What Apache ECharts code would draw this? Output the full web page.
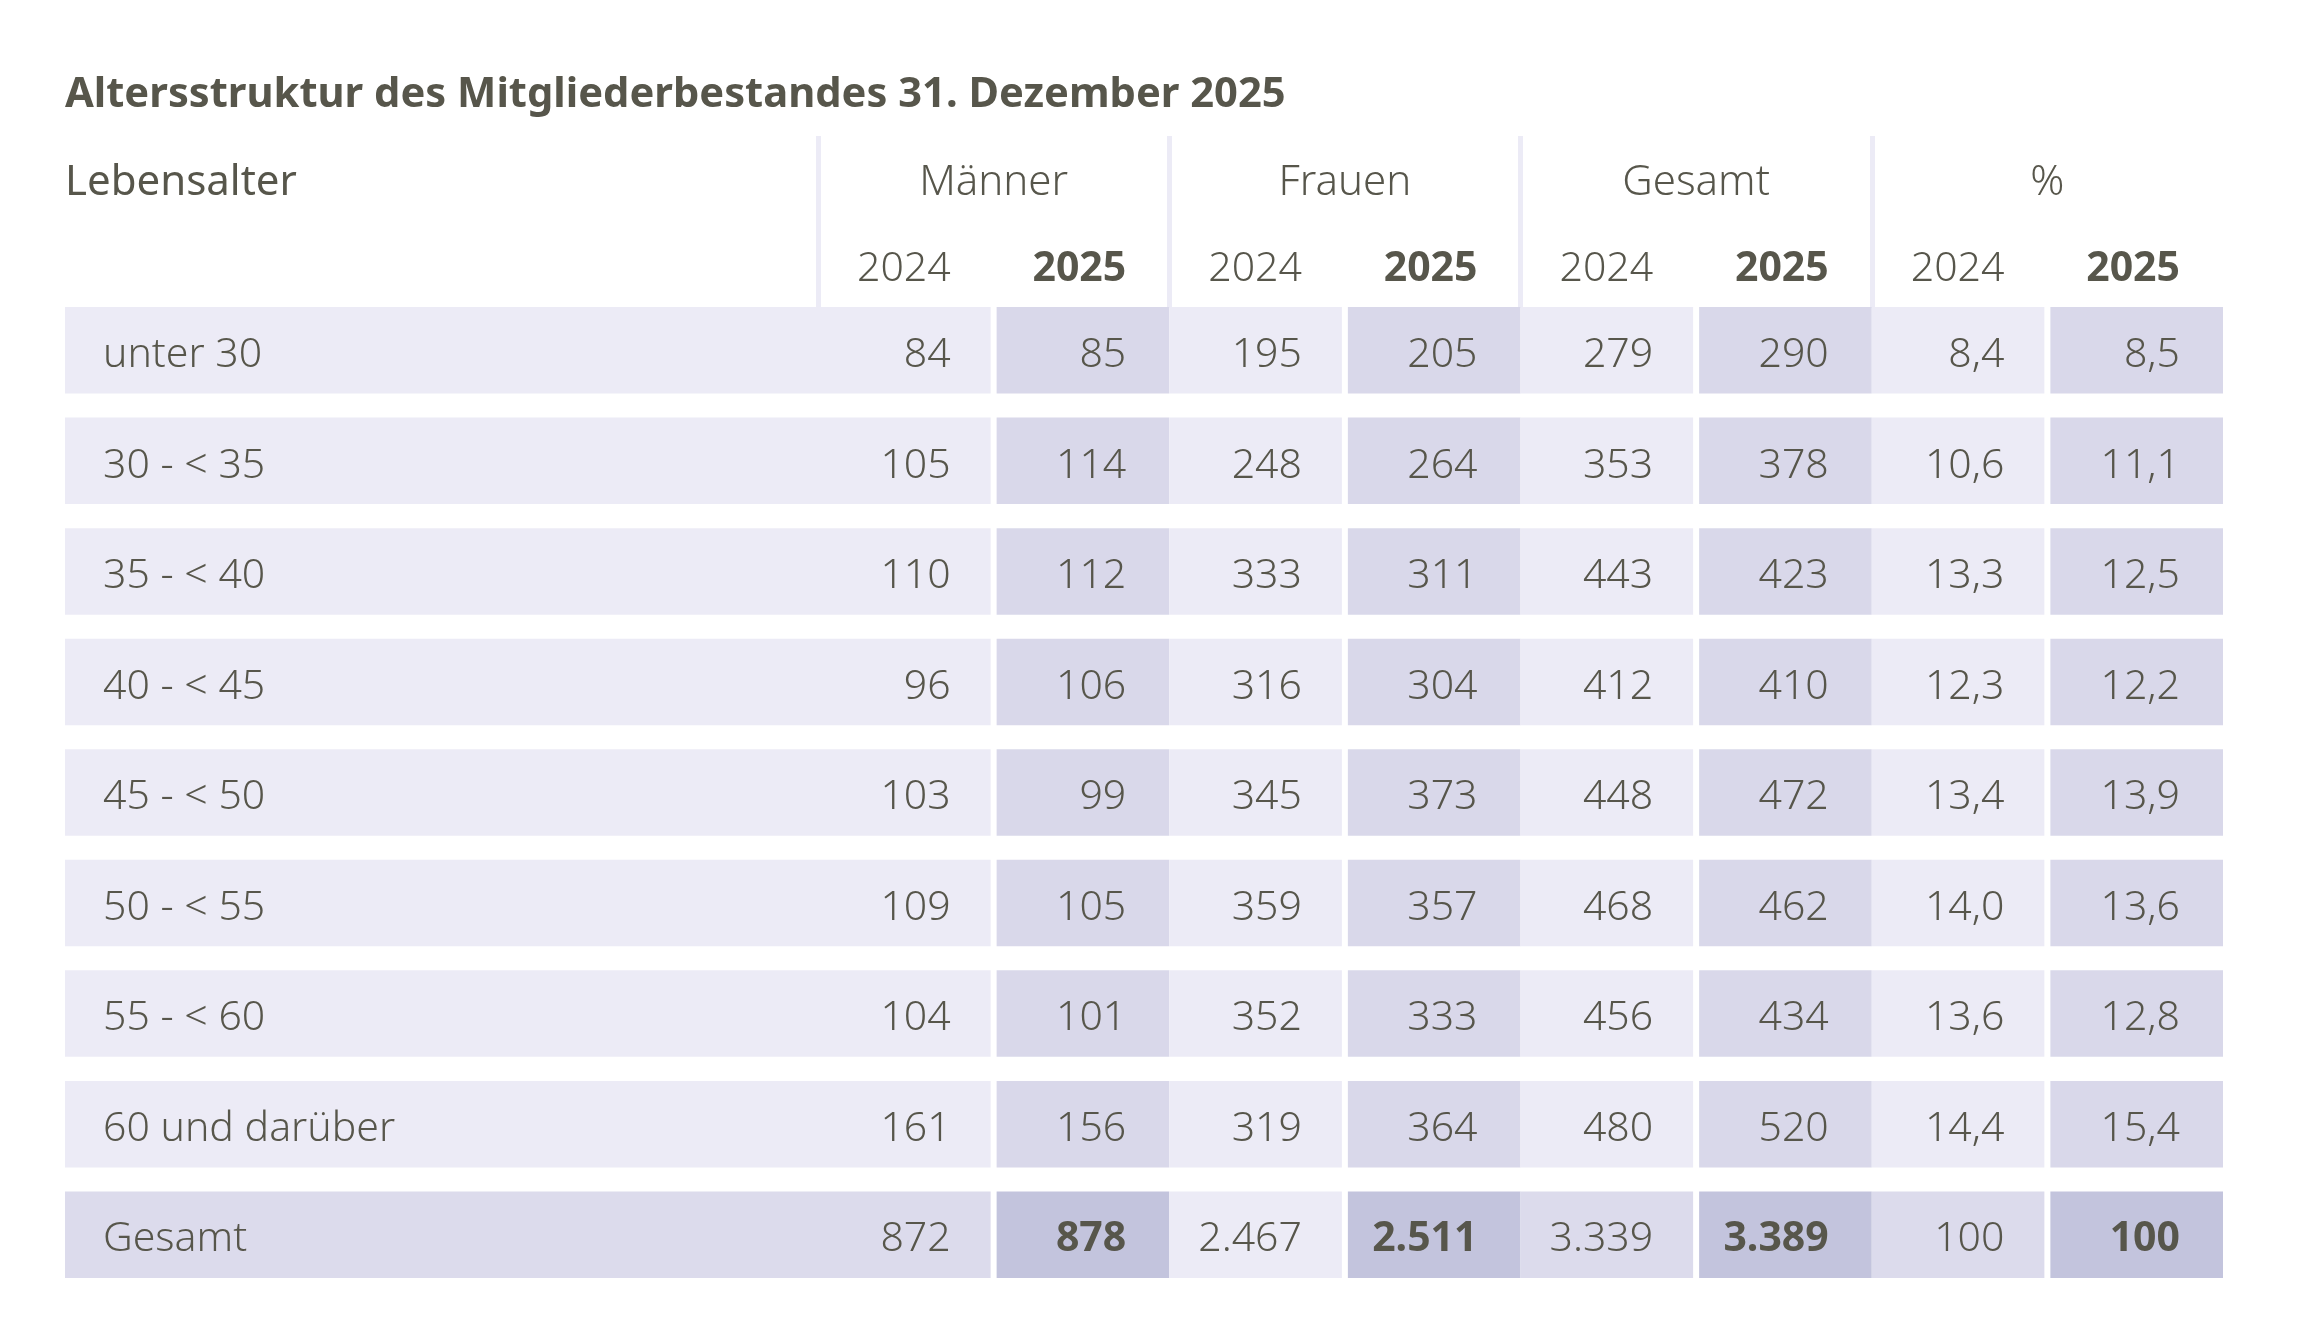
<!DOCTYPE html>
<html>
<head>
<meta charset="utf-8">
<title>Altersstruktur des Mitgliederbestandes</title>
<script src="https://cdn.jsdelivr.net/npm/echarts@6/dist/echarts.min.js"></script>
<style>
  html, body { margin: 0; padding: 0; background: #fff; }
  #chart { width: 2304px; height: 1344px; }
</style>
</head>
<body>
<div id="chart"></div>
<script>
// Werte aus der Tabelle
var ageGroups = ['unter 30', '30 - < 35', '35 - < 40', '40 - < 45', '45 - < 50',
  '50 - < 55', '55 - < 60', '60 und darüber', 'Gesamt'];
var men2024 = [84, 105, 110, 96, 103, 109, 104, 161, 872];
var men2025 = [85, 114, 112, 106, 99, 105, 101, 156, 878];
var women2024 = [195, 248, 333, 316, 345, 359, 352, 319, 2467];
var women2025 = [205, 264, 311, 304, 373, 357, 333, 364, 2511];
var total2024 = [279, 353, 443, 412, 448, 468, 456, 480, 3339];
var total2025 = [290, 378, 423, 410, 472, 462, 434, 520, 3389];
var share2024 = [8.4, 10.6, 13.3, 12.3, 13.4, 14.0, 13.6, 14.4, 100];
var share2025 = [8.5, 11.1, 12.5, 12.2, 13.9, 13.6, 12.8, 15.4, 100];
var groupNames = ['Männer', 'Frauen', 'Gesamt', '%'];
var yearLabels = ['2024', '2025'];

var TEXT = '#57564b';
var FONT = 'Noto Sans';
var LIGHT = '#ecebf6';
var MID = '#d9d8ea';
var TOTAL_MID = '#dcdbec';
var DARK = '#c3c4dd';

var columns = [men2024, men2025, women2024, women2025, total2024, total2025, share2024, share2025];
var columnKeys = [];
for (var g = 0; g < groupNames.length; g++) {
  for (var y = 0; y < yearLabels.length; y++) {
    columnKeys.push(groupNames[g] + ' ' + yearLabels[y]);
  }
}

function fmtCount(v) {
  return String(v).replace(/\B(?=(\d{3})+(?!\d))/g, '.');
}
function fmtShare(v) {
  return v === 100 ? '100' : v.toFixed(1).replace('.', ',');
}

// data items hold only [column, row]; the shown text is looked up by dataIndex
var cellData = [], cellText = [];
columns.forEach(function (arr, c) {
  arr.forEach(function (v, r) {
    cellData.push([c, r]);
    cellText.push(c >= 6 ? fmtShare(v) : fmtCount(v));
  });
});
var labelData = ageGroups.map(function (name, r) { return [0, r]; });
var groupData = groupNames.map(function (name, i) { return [i, 0]; });
var yearData = columnKeys.map(function (k, i) { return [i, 1]; });

var lastRow = ageGroups.length - 1;
var CELL_H = 86.5;

function txt(text, x, y, align, bold, size) {
  return {
    type: 'text',
    style: {
      text: text, x: x, y: y,
      align: align, textAlign: align,
      verticalAlign: 'middle', textVerticalAlign: 'middle',
      fill: TEXT, fontSize: size || 41, fontFamily: FONT,
      fontWeight: bold ? 'bold' : 300
    }
  };
}

function renderCell(params, api) {
  var col = api.value(0), row = api.value(1);
  var c = api.coord([col, row]);
  var s = api.size([1, 1]);
  var left = c[0] - s[0] / 2, right = c[0] + s[0] / 2;
  var isNew = col % 2 === 1;
  var isTotal = row === lastRow;
  var x0 = isNew ? left + 3 : left;
  var x1 = isNew ? right : right - 3;
  var fill = isNew ? (isTotal ? DARK : MID) : (isTotal && col !== 2 ? TOTAL_MID : LIGHT);
  return {
    type: 'group',
    children: [
      { type: 'rect', shape: { x: x0, y: c[1] - CELL_H / 2, width: x1 - x0, height: CELL_H }, style: { fill: fill } },
      txt(cellText[params.dataIndex], right - 43, c[1] + 5, 'right', isNew && isTotal)
    ]
  };
}

function renderLabel(params, api) {
  var row = api.value(1);
  var c = api.coord([0, row]);
  var s = api.size([1, 1]);
  var left = c[0] - s[0] / 2;
  return {
    type: 'group',
    children: [
      { type: 'rect', shape: { x: left, y: c[1] - CELL_H / 2, width: s[0], height: CELL_H },
        style: { fill: row === lastRow ? TOTAL_MID : LIGHT } },
      txt(ageGroups[params.dataIndex], left + 38, c[1] + 5, 'left', false)
    ]
  };
}

function renderGroup(params, api) {
  var c = api.coord([api.value(0), 0]);
  return txt(groupNames[params.dataIndex], c[0], c[1] + 4, 'center', false, 42);
}

function renderYear(params, api) {
  var col = api.value(0);
  var c = api.coord([col, 1]);
  var s = api.size([1, 1]);
  return txt(yearLabels[col % 2], c[0] + s[0] / 2 - 43, c[1] + 4, 'right', col % 2 === 1);
}

var hiddenCat = function (data, grid, inverse) {
  return { type: 'category', gridIndex: grid, data: data, show: false, inverse: !!inverse };
};

var option = {
  backgroundColor: '#fff',
  animation: false,
  title: [
    {
      text: 'Altersstruktur des Mitgliederbestandes 31. Dezember 2025',
      left: 65, top: 74, padding: 0,
      textStyle: { color: TEXT, fontFamily: FONT, fontSize: 41.7, fontWeight: 'bold' }
    },
    {
      text: 'Lebensalter',
      left: 65, top: 162, padding: 0,
      textStyle: { color: TEXT, fontFamily: FONT, fontSize: 42, fontWeight: 'normal' }
    }
  ],
  grid: [
    { left: 818, top: 136, width: 1405, height: 172 },
    { left: 65, top: 295, width: 753, height: 995 },
    { left: 818, top: 295, width: 1405, height: 995 }
  ],
  xAxis: [
    {
      type: 'category', gridIndex: 0, data: groupNames, position: 'top',
      axisLine: { show: false }, axisTick: { show: false }, axisLabel: { show: false },
      splitLine: { show: true, showMaxLine: false, lineStyle: { color: LIGHT, width: 5 } }
    },
    hiddenCat(columnKeys, 0),
    hiddenCat(['Lebensalter'], 1),
    hiddenCat(columnKeys, 2)
  ],
  yAxis: [
    hiddenCat(['Gruppe', 'Jahr'], 0, true),
    hiddenCat(ageGroups, 1, true),
    hiddenCat(ageGroups, 2, true)
  ],
  series: [
    { type: 'custom', name: 'Gruppen', xAxisIndex: 0, yAxisIndex: 0, data: groupData, renderItem: renderGroup, silent: true },
    { type: 'custom', name: 'Jahre', xAxisIndex: 1, yAxisIndex: 0, data: yearData, renderItem: renderYear, silent: true },
    { type: 'custom', name: 'Lebensalter', xAxisIndex: 2, yAxisIndex: 1, data: labelData, renderItem: renderLabel, silent: true },
    { type: 'custom', name: 'Werte', xAxisIndex: 3, yAxisIndex: 2, data: cellData, renderItem: renderCell, silent: true }
  ]
};

var chart = echarts.init(document.getElementById('chart'));
chart.setOption(option);
window.addEventListener('resize', function () { chart.resize(); });
</script>
</body>
</html>
